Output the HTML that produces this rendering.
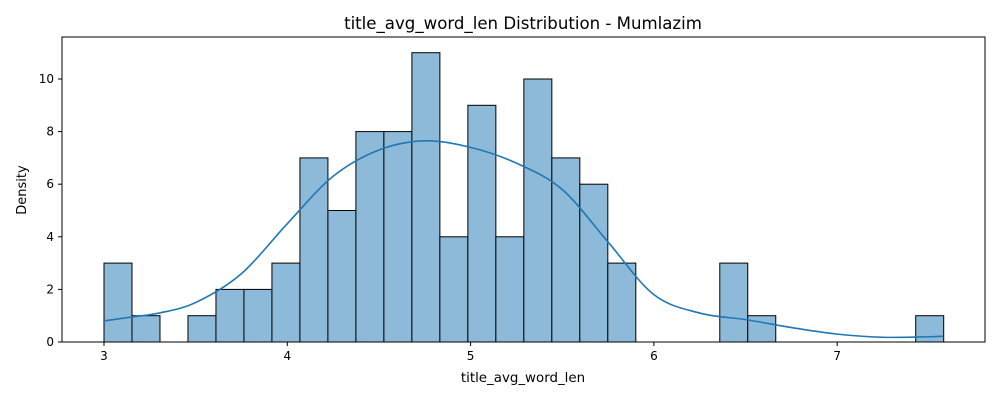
<!DOCTYPE html>
<html><head><meta charset="utf-8"><style>
body{margin:0;background:#fff;font-family:"Liberation Sans","DejaVu Sans",sans-serif}
</style></head><body>
<svg width="1000" height="400" id="chart" xmlns="http://www.w3.org/2000/svg" font-family="DejaVu Sans, Liberation Sans, sans-serif">
<rect width="1000" height="400" fill="#fff"/>
<text x="523" y="29" font-size="16.6" text-anchor="middle">title_avg_word_len Distribution - Mumlazim</text>
<text x="523" y="382" font-size="13.4" text-anchor="middle">title_avg_word_len</text>
<text x="26" y="190" font-size="13" text-anchor="middle" transform="rotate(-90 26 190)">Density</text>
<g id="bars"></g><g id="ticks"></g>
<path id="kde" fill="none" stroke="#1f77b4" stroke-width="1.6"/>
<rect x="62" y="37" width="923" height="305" fill="none" stroke="#000" stroke-width="1"/>
</svg>
<script>
const binStart = 3.0;
const binWidth = 0.1527;
const counts = [3,1,0,1,2,2,3,7,5,8,8,11,4,9,4,10,7,6,3,0,0,0,3,1,0,0,0,0,0,1];
const kdeX = [3.0,3.15,3.3,3.5,3.75,4.0,4.25,4.5,4.75,5.0,5.25,5.5,5.75,6.0,6.25,6.5,6.75,7.0,7.25,7.5,7.58];
const kdeY = [0.8,0.95,1.1,1.5,2.6,4.5,6.3,7.3,7.65,7.4,6.8,5.8,3.8,1.8,1.1,0.85,0.55,0.3,0.18,0.2,0.22];
const xTicks = [3,4,5,6,7];
const yTicks = [0,2,4,6,8,10];
const NS="http://www.w3.org/2000/svg";
const sx=v=>104+(v-3)*183.3, sy=v=>342-v*26.3;
const bars=document.getElementById('bars');
counts.forEach((c,i)=>{
 if(c<=0)return;
 const r=document.createElementNS(NS,'rect');
 const x0=sx(binStart+i*binWidth), x1=sx(binStart+(i+1)*binWidth);
 r.setAttribute('x',x0);r.setAttribute('width',x1-x0);
 r.setAttribute('y',sy(c));r.setAttribute('height',sy(0)-sy(c));
 r.setAttribute('fill','#8ebad9');r.setAttribute('stroke','#000');r.setAttribute('stroke-width','1');
 
 
 bars.appendChild(r);
});
const t=document.getElementById('ticks');
function add(tag,attrs,txt){const e=document.createElementNS(NS,tag);for(const k in attrs)e.setAttribute(k,attrs[k]);if(txt!==undefined)e.textContent=txt;t.appendChild(e);return e;}
xTicks.forEach(v=>{
 const l=add('line',{x1:sx(v),x2:sx(v),y1:342,y2:346,stroke:'#000'});
 
 
 const s=add('text',{x:sx(v),y:360,'font-size':12,'text-anchor':'middle'},String(v));
 
 
});
yTicks.forEach(v=>{
 const l=add('line',{x1:58,x2:62,y1:sy(v),y2:sy(v),stroke:'#000'});
 
 
 const s=add('text',{x:54,y:sy(v)+4,'font-size':12,'text-anchor':'end'},String(v));
 
 
});
const pts=kdeX.map((x,i)=>[sx(x),sy(kdeY[i])]);
let d='M'+pts[0][0]+','+pts[0][1];
for(let i=0;i<pts.length-1;i++){
 const p0=pts[Math.max(0,i-1)],p1=pts[i],p2=pts[i+1],p3=pts[Math.min(pts.length-1,i+2)];
 d+=' C'+(p1[0]+(p2[0]-p0[0])/6)+','+(p1[1]+(p2[1]-p0[1])/6)+' '+(p2[0]-(p3[0]-p1[0])/6)+','+(p2[1]-(p3[1]-p1[1])/6)+' '+p2[0]+','+p2[1];
}
document.getElementById('kde').setAttribute('d',d);
</script>
</body></html>
